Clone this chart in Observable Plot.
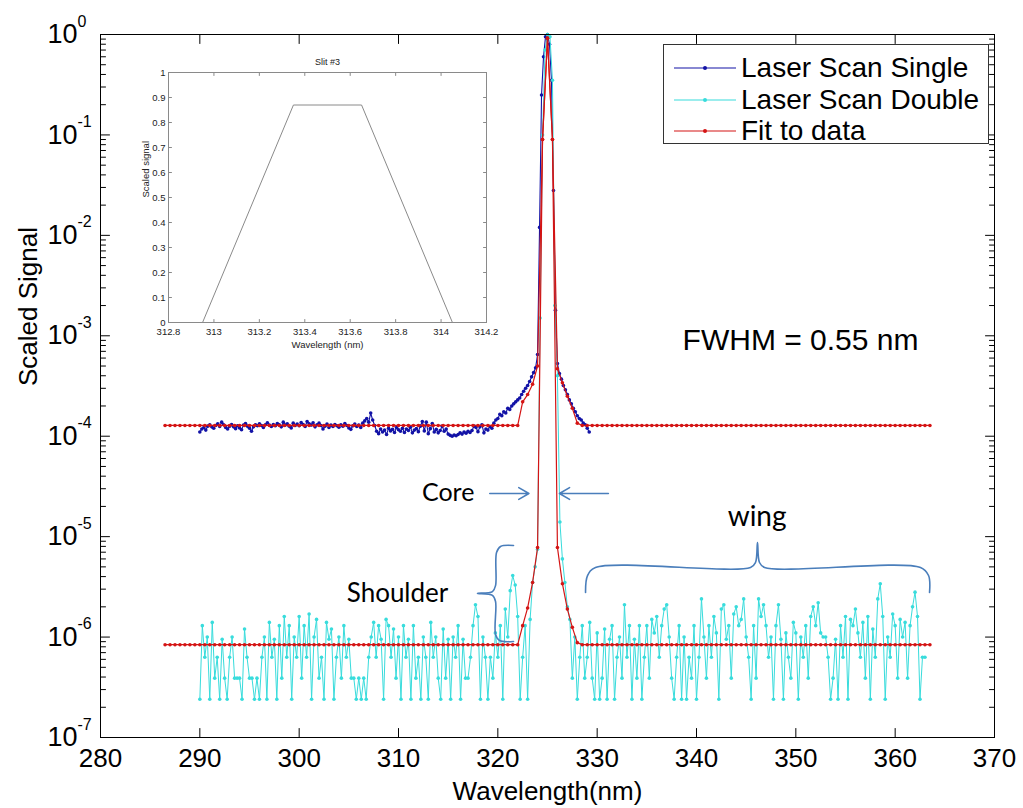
<!DOCTYPE html>
<html><head><meta charset="utf-8">
<script src="https://cdn.jsdelivr.net/npm/d3@7"></script>
<script src="https://cdn.jsdelivr.net/npm/@observablehq/plot@0.6"></script>
<style>
html,body{margin:0;padding:0;background:#fff;}
#wrap{position:relative;width:1023px;height:808px;font-family:"Liberation Sans",Arial,sans-serif;}
#wrap > svg{position:absolute;left:0;top:0;}
#inset{position:absolute;left:138px;top:52px;}
#legend{position:absolute;left:663px;top:44px;width:326px;height:100px;border:1px solid #333;background:#fff;box-sizing:border-box;}
.row{position:absolute;left:10px;height:32px;display:flex;align-items:center;font-size:28px;color:#000;white-space:nowrap;}
.row svg{margin-right:5px;}
</style></head><body><div id="wrap"><div id="inset"></div><div id="legend"></div></div>
<script>
// ---------- data ----------
const seriesNames = ["Laser Scan Single", "Laser Scan Double", "Fit to data"];
const singleStart = 290, singleStep = 0.2;
const singleSignal = [
1.10e-4,1.18e-4,1.22e-4,1.15e-4,1.26e-4,1.30e-4,1.24e-4,1.20e-4,1.28e-4,1.33e-4,
1.25e-4,1.38e-4,1.30e-4,1.22e-4,1.18e-4,1.26e-4,1.31e-4,1.24e-4,1.19e-4,1.27e-4,
1.21e-4,1.16e-4,1.29e-4,1.34e-4,1.26e-4,1.20e-4,1.12e-4,1.24e-4,1.30e-4,1.27e-4,
1.33e-4,1.28e-4,1.22e-4,1.30e-4,1.36e-4,1.29e-4,1.25e-4,1.31e-4,1.27e-4,1.34e-4,
1.30e-4,1.24e-4,1.38e-4,1.29e-4,1.33e-4,1.26e-4,1.21e-4,1.35e-4,1.28e-4,1.32e-4,
1.27e-4,1.37e-4,1.31e-4,1.25e-4,1.40e-4,1.33e-4,1.29e-4,1.36e-4,1.24e-4,1.30e-4,
1.35e-4,1.28e-4,1.18e-4,1.26e-4,1.32e-4,1.22e-4,1.29e-4,1.25e-4,1.31e-4,1.27e-4,
1.23e-4,1.30e-4,1.26e-4,1.34e-4,1.28e-4,1.21e-4,1.17e-4,1.27e-4,1.32e-4,1.25e-4,
1.29e-4,1.22e-4,1.35e-4,1.42e-4,1.50e-4,1.38e-4,1.70e-4,1.45e-4,1.28e-4,1.12e-4,
1.06e-4,1.18e-4,1.10e-4,1.15e-4,1.04e-4,1.20e-4,1.13e-4,1.17e-4,1.09e-4,1.22e-4,
1.16e-4,1.12e-4,1.20e-4,1.09e-4,1.18e-4,1.14e-4,1.23e-4,1.08e-4,1.15e-4,1.19e-4,
1.11e-4,1.26e-4,1.40e-4,1.13e-4,1.38e-4,1.06e-4,1.19e-4,1.34e-4,1.10e-4,1.17e-4,
1.08e-4,1.14e-4,1.26e-4,1.12e-4,1.18e-4,1.05e-4,1.02e-4,1.00e-4,1.03e-4,1.01e-4,
1.04e-4,1.08e-4,1.05e-4,1.10e-4,1.07e-4,1.12e-4,1.09e-4,1.14e-4,1.26e-4,1.22e-4,
1.11e-4,1.24e-4,1.30e-4,1.08e-4,1.18e-4,
1.15e-4,1.25e-4,1.20e-4,1.35e-4,1.45e-4,1.50e-4,1.65e-4,1.60e-4,1.75e-4,1.70e-4,
1.90e-4,1.85e-4,2.00e-4,2.10e-4,2.20e-4,2.30e-4,2.40e-4,2.60e-4,2.80e-4,3.00e-4,
3.20e-4,3.50e-4,3.90e-4,4.30e-4,4.80e-4,6.50e-4,
0.012,0.25,0.6,0.95,1.0,0.8,0.35,0.028,1.8e-3,5.3e-4,
4.2e-4,3.7e-4,3.2e-4,2.9e-4,2.6e-4,2.3e-4,2.1e-4,1.9e-4,1.75e-4,1.6e-4,1.5e-4,1.45e-4,1.35e-4,1.3e-4,1.2e-4,1.1e-4
];
const doubleStart = 290, doubleStep = 0.25;
const doubleSignal = [
2.4e-7,1.3e-6,6.3e-7,1.0e-6,2.4e-7,1.4e-6,3.9e-7,6.3e-7,2.4e-7,9.5e-7,3.9e-7,2.4e-7,6.3e-7,1.0e-6,3.9e-7,3.9e-7,3.9e-7,2.4e-7,1.2e-6,6.3e-7,
3.9e-7,3.9e-7,2.4e-7,3.9e-7,2.4e-7,6.3e-7,1.0e-6,2.4e-7,1.4e-6,6.3e-7,9.5e-7,2.4e-7,1.3e-6,3.9e-7,1.6e-6,6.3e-7,1.3e-6,2.4e-7,1.0e-6,6.3e-7,
1.6e-6,3.9e-7,1.3e-6,6.3e-7,1.7e-6,2.4e-7,1.0e-6,1.5e-6,3.9e-7,6.3e-7,2.4e-7,1.4e-6,9.5e-7,1.2e-6,2.4e-7,6.3e-7,1.0e-6,3.9e-7,1.3e-6,6.3e-7,
9.5e-7,3.9e-7,3.9e-7,2.4e-7,3.9e-7,2.4e-7,3.9e-7,2.4e-7,6.3e-7,1.0e-6,1.4e-6,6.3e-7,1.3e-6,9.5e-7,2.4e-7,1.5e-6,1.3e-6,6.3e-7,1.2e-6,3.9e-7,
1.0e-6,2.4e-7,1.3e-6,6.3e-7,9.5e-7,2.4e-7,1.3e-6,3.9e-7,6.3e-7,2.4e-7,1.0e-6,6.3e-7,2.4e-7,1.4e-6,6.3e-7,1.0e-6,3.9e-7,2.4e-7,1.2e-6,3.9e-7,
9.5e-7,2.4e-7,1.0e-6,6.3e-7,1.3e-6,2.4e-7,9.5e-7,3.9e-7,3.9e-7,6.3e-7,1.3e-6,2.1e-6,1.6e-6,2.4e-7,1.0e-6,6.3e-7,2.4e-7,6.3e-7,3.9e-7,1.1e-6,
6.3e-7,1.3e-6,2.4e-7,1.9e-6,1.0e-6,2.9e-6,4.1e-6,3.3e-6,1.6e-6,2.4e-7,6.3e-7,1.3e-6,2.4e-7,1.5e-6,3.5e-6,5.0e-6,7.5e-6,1.5e-3,0.1,0.7,
1.0,0.95,0.35,2.0e-3,4.0e-4,1.4e-5,6.0e-6,3.5e-6,2.0e-6,1.5e-6,3.9e-7,1.0e-6,2.4e-7,6.3e-7,1.3e-6,3.9e-7,6.3e-7,1.4e-6,3.9e-7,2.4e-7,
1.1e-6,2.4e-7,3.9e-7,1.2e-6,2.4e-7,9.5e-7,1.3e-6,2.4e-7,6.3e-7,1.0e-6,3.9e-7,2.1e-6,6.3e-7,1.3e-6,2.4e-7,9.5e-7,3.9e-7,1.3e-6,2.4e-7,6.3e-7,
1.3e-6,3.9e-7,1.5e-6,1.1e-6,1.6e-6,6.3e-7,1.3e-6,1.9e-6,2.1e-6,1.0e-6,3.9e-7,2.4e-7,6.3e-7,1.3e-6,2.4e-7,1.0e-6,2.4e-7,6.3e-7,3.9e-7,1.3e-6,
2.4e-7,6.3e-7,2.4e-6,1.0e-6,3.9e-7,1.3e-6,6.3e-7,1.6e-6,1.1e-6,2.4e-7,1.9e-6,2.1e-6,9.5e-7,1.3e-6,3.9e-7,1.7e-6,2.0e-6,1.3e-6,1.5e-6,2.4e-6,
1.0e-6,6.3e-7,2.4e-7,1.3e-6,3.9e-7,2.4e-6,1.6e-6,2.1e-6,1.3e-6,6.3e-7,1.0e-6,2.4e-7,1.3e-6,2.1e-6,9.5e-7,2.4e-7,1.1e-6,6.3e-7,3.9e-7,1.4e-6,
1.1e-6,2.4e-7,1.0e-6,6.3e-7,1.3e-6,3.9e-7,1.6e-6,2.0e-6,1.3e-6,2.2e-6,1.1e-6,1.0e-6,1.0e-6,6.3e-7,2.4e-7,3.9e-7,9.5e-7,2.4e-7,1.3e-6,6.3e-7,
1.6e-6,2.4e-7,1.5e-6,1.3e-6,1.9e-6,1.1e-6,6.3e-7,1.4e-6,3.9e-7,1.6e-6,2.4e-7,1.2e-6,6.3e-7,2.4e-6,3.4e-6,1.6e-6,2.4e-7,1.0e-6,6.3e-7,1.7e-6,
1.3e-6,3.9e-7,1.5e-6,1.0e-6,1.4e-6,3.9e-7,1.3e-6,2.0e-6,2.8e-6,1.6e-6,2.4e-7,6.3e-7,6.3e-7
];
const fitStart = 286.5, fitStep = 0.5;
const fitSingle = [
1.28e-4,1.28e-4,1.28e-4,1.28e-4,1.28e-4,1.28e-4,1.28e-4,1.28e-4,1.28e-4,1.28e-4,1.28e-4,1.28e-4,
1.28e-4,1.28e-4,1.28e-4,1.28e-4,1.28e-4,1.28e-4,1.28e-4,1.28e-4,1.28e-4,1.28e-4,1.28e-4,1.28e-4,
1.28e-4,1.28e-4,1.28e-4,1.28e-4,1.28e-4,1.28e-4,1.28e-4,1.28e-4,1.28e-4,1.28e-4,1.28e-4,1.28e-4,
1.28e-4,1.28e-4,1.28e-4,1.28e-4,1.28e-4,1.28e-4,1.28e-4,1.28e-4,1.28e-4,1.28e-4,1.28e-4,1.28e-4,
1.28e-4,1.28e-4,1.28e-4,1.28e-4,1.28e-4,1.28e-4,1.28e-4,1.28e-4,1.28e-4,1.28e-4,1.28e-4,1.28e-4,
1.28e-4,1.28e-4,1.28e-4,1.28e-4,1.28e-4,1.28e-4,1.28e-4,1.28e-4,1.28e-4,1.28e-4,1.28e-4,1.28e-4,
2.2e-4,2.6e-4,3.3e-4,5.0e-4,0.09,0.92,0.09,4.7e-4,3.4e-4,2.5e-4,1.9e-4,1.35e-4,
1.28e-4,1.28e-4,1.28e-4,1.28e-4,1.28e-4,1.28e-4,1.28e-4,1.28e-4,1.28e-4,1.28e-4,1.28e-4,1.28e-4,
1.28e-4,1.28e-4,1.28e-4,1.28e-4,1.28e-4,1.28e-4,1.28e-4,1.28e-4,1.28e-4,1.28e-4,1.28e-4,1.28e-4,
1.28e-4,1.28e-4,1.28e-4,1.28e-4,1.28e-4,1.28e-4,1.28e-4,1.28e-4,1.28e-4,1.28e-4,1.28e-4,1.28e-4,
1.28e-4,1.28e-4,1.28e-4,1.28e-4,1.28e-4,1.28e-4,1.28e-4,1.28e-4,1.28e-4,1.28e-4,1.28e-4,1.28e-4,
1.28e-4,1.28e-4,1.28e-4,1.28e-4,1.28e-4,1.28e-4,1.28e-4,1.28e-4,1.28e-4,1.28e-4,1.28e-4,1.28e-4,
1.28e-4,1.28e-4,1.28e-4,1.28e-4,1.28e-4,1.28e-4,1.28e-4,1.28e-4,1.28e-4,1.28e-4,1.28e-4
];
const fitDouble = [
8.4e-7,8.4e-7,8.4e-7,8.4e-7,8.4e-7,8.4e-7,8.4e-7,8.4e-7,8.4e-7,8.4e-7,8.4e-7,8.4e-7,
8.4e-7,8.4e-7,8.4e-7,8.4e-7,8.4e-7,8.4e-7,8.4e-7,8.4e-7,8.4e-7,8.4e-7,8.4e-7,8.4e-7,
8.4e-7,8.4e-7,8.4e-7,8.4e-7,8.4e-7,8.4e-7,8.4e-7,8.4e-7,8.4e-7,8.4e-7,8.4e-7,8.4e-7,
8.4e-7,8.4e-7,8.4e-7,8.4e-7,8.4e-7,8.4e-7,8.4e-7,8.4e-7,8.4e-7,8.4e-7,8.4e-7,8.4e-7,
8.4e-7,8.4e-7,8.4e-7,8.4e-7,8.4e-7,8.4e-7,8.4e-7,8.4e-7,8.4e-7,8.4e-7,8.4e-7,8.4e-7,
8.4e-7,8.4e-7,8.4e-7,8.4e-7,8.4e-7,8.4e-7,8.4e-7,8.4e-7,8.4e-7,8.4e-7,8.4e-7,8.4e-7,
1.3e-6,1.95e-6,3.5e-6,7.8e-6,0.09,0.92,0.09,7.8e-6,3.4e-6,1.9e-6,1.25e-6,8.8e-7,
8.4e-7,8.4e-7,8.4e-7,8.4e-7,8.4e-7,8.4e-7,8.4e-7,8.4e-7,8.4e-7,8.4e-7,8.4e-7,8.4e-7,
8.4e-7,8.4e-7,8.4e-7,8.4e-7,8.4e-7,8.4e-7,8.4e-7,8.4e-7,8.4e-7,8.4e-7,8.4e-7,8.4e-7,
8.4e-7,8.4e-7,8.4e-7,8.4e-7,8.4e-7,8.4e-7,8.4e-7,8.4e-7,8.4e-7,8.4e-7,8.4e-7,8.4e-7,
8.4e-7,8.4e-7,8.4e-7,8.4e-7,8.4e-7,8.4e-7,8.4e-7,8.4e-7,8.4e-7,8.4e-7,8.4e-7,8.4e-7,
8.4e-7,8.4e-7,8.4e-7,8.4e-7,8.4e-7,8.4e-7,8.4e-7,8.4e-7,8.4e-7,8.4e-7,8.4e-7,8.4e-7,
8.4e-7,8.4e-7,8.4e-7,8.4e-7,8.4e-7,8.4e-7,8.4e-7,8.4e-7,8.4e-7,8.4e-7,8.4e-7
];
const xTicks = [280, 290, 300, 310, 320, 330, 340, 350, 360, 370];
const decades = [0, -1, -2, -3, -4, -5, -6, -7];
const minorMultipliers = [2, 3, 4, 5, 6, 7, 8, 9];

// inset (Slit #3)
const slitWavelength = [312.95, 313.35, 313.65, 314.05];
const slitSignal = [0, 0.87, 0.87, 0];
const slitXTicks = [312.8, 313, 313.2, 313.4, 313.6, 313.8, 314, 314.2];
const slitYTicks = [0, 0.1, 0.2, 0.3, 0.4, 0.5, 0.6, 0.7, 0.8, 0.9, 1];

// annotations (data coordinates)
const labelNotes = [
  {text: "Core", x: 315.0, y: 2.69e-5, size: 25},
  {text: "Shoulder", x: 309.9, y: 2.72e-6, size: 26},
  {text: "wing", x: 346.1, y: 1.55e-5, size: 28}
];
const fwhmNote = [{text: "FWHM = 0.55 nm", x: 338.6, y: 8.9e-4}];
const coreArrows = [
  {x1: 319.19, y1: 2.69e-5, x2: 323.13, y2: 2.69e-5},
  {x1: 331.13, y1: 2.69e-5, x2: 326.20, y2: 2.69e-5}
];
const shoulderBrace = [
  [321.58, 8.16e-6], [320.27, 7.98e-6], [319.87, 6.95e-6], [319.77, 3.26e-6], [319.46, 2.84e-6],
  [317.95, 2.72e-6], [319.46, 2.60e-6], [319.77, 2.26e-6], [319.77, 1.06e-6], [320.17, 9.25e-7], [321.58, 9.04e-7]
].map(([x, y]) => ({x, y}));
const wingBrace = [
  [328.83, 2.78e-6], [329.03, 4.10e-6], [329.83, 4.93e-6], [345.44, 4.93e-6], [345.94, 5.53e-6],
  [346.14, 8.74e-6], [346.34, 5.53e-6], [346.85, 4.93e-6], [362.55, 4.93e-6], [363.36, 4.10e-6], [363.46, 2.78e-6]
].map(([x, y]) => ({x, y}));

// ---------- build ----------
const toSeries = (start, step, vals) => vals.map((v, i) => ({x: +(start + i * step).toFixed(3), y: v}));
const single = toSeries(singleStart, singleStep, singleSignal);
const dbl = toSeries(doubleStart, doubleStep, doubleSignal);
const fitS = toSeries(fitStart, fitStep, fitSingle);
const fitD = toSeries(fitStart, fitStep, fitDouble);
const slit = slitWavelength.map((x, i) => ({x, y: slitSignal[i]}));

const majorY = decades.map(e => Math.pow(10, e));
const minorY = [];
for (const e of decades.slice(1)) for (const m of minorMultipliers) minorY.push(m * Math.pow(10, e));

const colSingle = "#1212a6", colDouble = "#38dcdc", colFit = "#d41414", colNote = "#4a7ebb";
const tickShape = {draw(ctx, l) { ctx.moveTo(0, 0); ctx.lineTo(0, -l); }};
const tk = (data, opts) => Plot.vector(data, {shape: tickShape, anchor: "start", stroke: opts.stroke || "#000", strokeWidth: 1, ...opts});

const main = Plot.plot({
  width: 1023, height: 808,
  marginLeft: 100, marginRight: 29, marginTop: 34, marginBottom: 71,
  style: {fontFamily: "Liberation Sans, Arial, sans-serif", background: "transparent", color: "#000"},
  x: {domain: [280, 370]},
  y: {type: "log", domain: [1e-7, 1], axis: null},
  marks: [
    // inward ticks
    tk(xTicks, {x: d => d, y: 1e-7, rotate: 0, length: 9}),
    tk(xTicks, {x: d => d, y: 1, rotate: 180, length: 9}),
    tk(majorY, {x: 280, y: d => d, rotate: 90, length: 9}),
    tk(majorY, {x: 370, y: d => d, rotate: -90, length: 9}),
    tk(minorY, {x: 280, y: d => d, rotate: 90, length: 5}),
    tk(minorY, {x: 370, y: d => d, rotate: -90, length: 5}),
    Plot.axisX(xTicks, {tickSize: 0, tickPadding: 11, fontSize: 26, fontFamily: "Liberation Sans Narrow, Liberation Sans, Arial", label: null, tickFormat: d => String(d)}),
    Plot.text(majorY, {frameAnchor: "left", y: d => d, text: () => "10", textAnchor: "end", lineAnchor: "middle", dx: -23, fontSize: 27}),
    Plot.text(decades, {frameAnchor: "left", y: e => Math.pow(10, e), text: e => String(e), textAnchor: "start", lineAnchor: "middle", dx: -23, dy: -13, fontSize: 16}),
    Plot.text(["Scaled Signal"], {frameAnchor: "left", text: d => d, rotate: -90, lineAnchor: "middle", dx: -72, fontSize: 26}),
    Plot.text(["Wavelength(nm)"], {frameAnchor: "bottom", text: d => d, lineAnchor: "middle", dy: 54, fontSize: 26}),
    // series
    Plot.line(single, {x: "x", y: "y", stroke: colSingle, strokeWidth: 1.1}),
    Plot.dot(single, {x: "x", y: "y", fill: colSingle, r: 1.8}),
    Plot.line(dbl, {x: "x", y: "y", stroke: colDouble, strokeWidth: 1}),
    Plot.dot(dbl, {x: "x", y: "y", fill: colDouble, r: 1.8}),
    Plot.line(fitS, {x: "x", y: "y", stroke: colFit, strokeWidth: 1.2}),
    Plot.dot(fitS, {x: "x", y: "y", fill: colFit, r: 1.8}),
    Plot.line(fitD, {x: "x", y: "y", stroke: colFit, strokeWidth: 1.2}),
    Plot.dot(fitD, {x: "x", y: "y", fill: colFit, r: 1.8}),
    // annotations
    Plot.text(fwhmNote, {x: "x", y: "y", text: "text", textAnchor: "start", lineAnchor: "middle", fontSize: 30}),
    Plot.text(labelNotes, {x: "x", y: "y", text: "text", lineAnchor: "middle", fontSize: d => d.size, fontFamily: "Lato, Open Sans, sans-serif"}),
    Plot.arrow(coreArrows, {x1: "x1", y1: "y1", x2: "x2", y2: "y2", stroke: colNote, strokeWidth: 1.6, headLength: 11}),
    Plot.line(shoulderBrace, {x: "x", y: "y", stroke: colNote, strokeWidth: 1.6, curve: "catmull-rom"}),
    Plot.line(wingBrace, {x: "x", y: "y", stroke: colNote, strokeWidth: 1.6, curve: "catmull-rom"}),
    Plot.frame({stroke: "#000", strokeWidth: 1})
  ]
});
document.getElementById("wrap").prepend(main);

const gray = "#8a8a8a";
const fmt1 = d => String(+d.toFixed(1));
const inset = Plot.plot({
  width: 363, height: 300,
  marginLeft: 30, marginRight: 15, marginTop: 20, marginBottom: 30,
  style: {fontFamily: "Liberation Sans, Arial, sans-serif", background: "transparent", color: "#222"},
  x: {domain: [312.8, 314.2]},
  y: {domain: [0, 1]},
  marks: [
    tk(slitXTicks, {x: d => d, y: 0, rotate: 0, length: 3, stroke: gray}),
    tk(slitXTicks, {x: d => d, y: 1, rotate: 180, length: 3, stroke: gray}),
    tk(slitYTicks, {x: 312.8, y: d => d, rotate: 90, length: 3, stroke: gray}),
    tk(slitYTicks, {x: 314.2, y: d => d, rotate: -90, length: 3, stroke: gray}),
    Plot.axisX(slitXTicks, {tickSize: 0, tickPadding: 6, fontSize: 9.5, tickFormat: fmt1, label: null}),
    Plot.axisY(slitYTicks, {tickSize: 0, tickPadding: 3, fontSize: 9.5, tickFormat: fmt1, label: null}),
    Plot.line(slit, {x: "x", y: "y", stroke: gray, strokeWidth: 1}),
    Plot.text(["Slit #3"], {frameAnchor: "top", text: d => d, lineAnchor: "middle", dy: -10, fontSize: 9}),
    Plot.text(["Wavelength (nm)"], {frameAnchor: "bottom", text: d => d, lineAnchor: "middle", dy: 22, fontSize: 9.5}),
    Plot.text(["Scaled signal"], {frameAnchor: "left", text: d => d, rotate: -90, lineAnchor: "middle", dx: -23, fontSize: 9.5}),
    Plot.frame({stroke: gray})
  ]
});
document.getElementById("inset").appendChild(inset);

// legend
const legendColors = [colSingle, colDouble, colFit];
const legendTops = [7, 39, 70];
const legend = document.getElementById("legend");
seriesNames.forEach((name, i) => {
  const row = document.createElement("div");
  row.className = "row";
  row.style.top = legendTops[i] + "px";
  row.innerHTML = `<svg width="62" height="10"><line x1="0" y1="5" x2="62" y2="5" stroke="${legendColors[i]}" stroke-width="1.2"/><circle cx="31" cy="5" r="2" fill="${legendColors[i]}"/></svg><span>${name}</span>`;
  legend.appendChild(row);
});
</script></body></html>
